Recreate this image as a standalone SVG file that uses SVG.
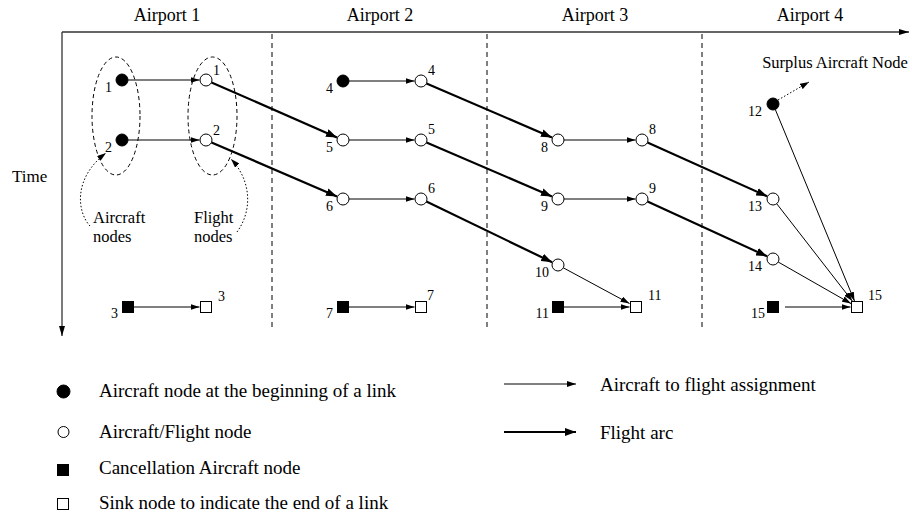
<svg xmlns="http://www.w3.org/2000/svg" width="912" height="516" viewBox="0 0 912 516">
<style>
text{font-family:"Liberation Serif","Times New Roman",serif;fill:#000}
.hdr{font-size:18px;text-anchor:middle}
.lbl{font-size:14px}
.l{text-anchor:end}
.cap{font-size:16.5px}
.leg{font-size:19px}
.axis{stroke:#333;stroke-width:1.3;fill:none}
.sep{stroke:#000;stroke-width:1;stroke-dasharray:5,4;fill:none}
.ell{stroke:#000;stroke-width:1;stroke-dasharray:4,3;fill:none}
.dot{stroke:#000;stroke-width:1;stroke-dasharray:1.5,2;fill:none}
.thin{stroke:#000;stroke-width:1;fill:none;marker-end:url(#ah)}
.thick{stroke:#000;stroke-width:2.2;fill:none;marker-end:url(#ahb)}
.fc{fill:#000;stroke:#000;stroke-width:1}
.oc{fill:#fff;stroke:#000;stroke-width:1}
</style>
<defs>
<marker id="ah" markerUnits="userSpaceOnUse" markerWidth="10" markerHeight="6" refX="9" refY="3" orient="auto"><path d="M0,0 L9,3 L0,6 z" fill="#000"/></marker>
<marker id="ahb" markerUnits="userSpaceOnUse" markerWidth="12" markerHeight="8" refX="11" refY="4" orient="auto"><path d="M0,0 L11,4 L0,8 z" fill="#000"/></marker>
<marker id="axh" markerUnits="userSpaceOnUse" markerWidth="10" markerHeight="6" refX="10" refY="3" orient="auto"><path d="M0,0 L10,3 L0,6 z" fill="#000"/></marker>
</defs>

<g id="axes">
<path class="axis" d="M62,32 H909" marker-end="url(#axh)"/>
<path class="axis" d="M62,32 V336" marker-end="url(#axh)"/>
<text x="12" y="182" style="font-size:17px">Time</text>
<text class="hdr" x="167" y="21">Airport 1</text>
<text class="hdr" x="380" y="21">Airport 2</text>
<text class="hdr" x="595" y="21">Airport 3</text>
<text class="hdr" x="810" y="21">Airport 4</text>
<path class="sep" d="M272,34 V330 M487,34 V330 M702,34 V330"/>
</g>

<g id="groups">
<ellipse class="ell" cx="116" cy="116" rx="24" ry="59"/>
<ellipse class="ell" cx="212.5" cy="116" rx="24.5" ry="59"/>
<text class="cap" x="93" y="223">Aircraft</text>
<text class="cap" x="93" y="242">nodes</text>
<text class="cap" x="194" y="223">Flight</text>
<text class="cap" x="194" y="242">nodes</text>
<text class="cap" x="835" y="68" style="text-anchor:middle">Surplus Aircraft Node</text>
</g>

<g id="connectors">
<path class="thin" d="M128,80 H199.5"/>
<path class="thin" d="M128,140 H199.5"/>
<path class="thin" d="M349,81 H414.5"/>
<path class="thin" d="M349,140 H414.5"/>
<path class="thin" d="M349,199 H414.5"/>
<path class="thin" d="M564,140 H635.5"/>
<path class="thin" d="M564,199 H635.5"/>
<path class="thin" d="M563.3,267.8 L629.5,303.5"/>
<path class="thin" d="M564,307 H629.5"/>
<path class="thin" d="M134,307 H199.5"/>
<path class="thin" d="M349,307 H414.5"/>
<path class="thin" d="M775.3,109.5 L854.5,301"/>
<path class="thin" d="M776.7,203.7 L852.3,301"/>
<path class="thin" d="M778.2,262 L851,303.6"/>
<path class="thin" d="M785,307 H850.5"/>
<path class="thick" d="M211.5,82.4 L337,137.4"/>
<path class="thick" d="M211.5,142.4 L337,196.4"/>
<path class="thick" d="M426.5,83.4 L552,137.4"/>
<path class="thick" d="M426.5,142.4 L552,196.4"/>
<path class="thick" d="M426.4,201.6 L552.1,262.2"/>
<path class="thick" d="M647.5,142.5 L767.1,196.3"/>
<path class="thick" d="M647.5,201.5 L767.1,256.3"/>
<path class="dot" d="M778,100 L809,82" marker-end="url(#ah)"/>
<path class="dot" d="M90,226 C77,212 73,178 106,153" marker-end="url(#ah)"/>
<path class="dot" d="M237,232 C253,210 251,180 231,159" marker-end="url(#ah)"/>
</g>

<g id="a1">
<circle class="fc" cx="122" cy="80" r="6"/><text class="lbl l" x="112" y="92">1</text>
<circle class="fc" cx="122" cy="140" r="6"/><text class="lbl l" x="112" y="152">2</text>
<circle class="oc" cx="206" cy="80" r="6"/><text class="lbl" x="213" y="75">1</text>
<circle class="oc" cx="206" cy="140" r="6"/><text class="lbl" x="213" y="135">2</text>
<rect class="fc" x="122.5" y="301.5" width="11" height="11"/><text class="lbl l" x="118" y="318">3</text>
<rect class="oc" x="200.5" y="301.5" width="11" height="11"/><text class="lbl" x="218" y="301">3</text>
</g>

<g id="a2">
<circle class="fc" cx="343" cy="81" r="6"/><text class="lbl l" x="333" y="93">4</text>
<circle class="oc" cx="343" cy="140" r="6"/><text class="lbl l" x="333" y="152">5</text>
<circle class="oc" cx="343" cy="199" r="6"/><text class="lbl l" x="333" y="211">6</text>
<circle class="oc" cx="421" cy="81" r="6"/><text class="lbl" x="428" y="75">4</text>
<circle class="oc" cx="421" cy="140" r="6"/><text class="lbl" x="428" y="134">5</text>
<circle class="oc" cx="421" cy="199" r="6"/><text class="lbl" x="428" y="193">6</text>
<rect class="fc" x="337.5" y="301.5" width="11" height="11"/><text class="lbl l" x="333" y="318">7</text>
<rect class="oc" x="415.5" y="301.5" width="11" height="11"/><text class="lbl" x="427" y="300">7</text>
</g>

<g id="a3">
<circle class="oc" cx="558" cy="140" r="6"/><text class="lbl l" x="548" y="152">8</text>
<circle class="oc" cx="558" cy="199" r="6"/><text class="lbl l" x="548" y="211">9</text>
<circle class="oc" cx="558" cy="265" r="6"/><text class="lbl l" x="549" y="277">10</text>
<circle class="oc" cx="642" cy="140" r="6"/><text class="lbl" x="649" y="134">8</text>
<circle class="oc" cx="642" cy="199" r="6"/><text class="lbl" x="649" y="193">9</text>
<rect class="fc" x="552.5" y="301.5" width="11" height="11"/><text class="lbl l" x="549" y="318">11</text>
<rect class="oc" x="630.5" y="301.5" width="11" height="11"/><text class="lbl" x="648" y="300">11</text>
</g>

<g id="a4">
<circle class="fc" cx="773" cy="104" r="6"/><text class="lbl l" x="762" y="116">12</text>
<circle class="oc" cx="773" cy="199" r="6"/><text class="lbl l" x="762" y="211">13</text>
<circle class="oc" cx="773" cy="259" r="6"/><text class="lbl l" x="762" y="271">14</text>
<rect class="fc" x="767.5" y="301.5" width="11" height="11"/><text class="lbl l" x="765" y="318">15</text>
<rect class="oc" x="851.5" y="301.5" width="11" height="11"/><text class="lbl" x="868" y="300">15</text>
</g>

<g id="legend">
<circle class="fc" cx="63.5" cy="391.5" r="6.5"/>
<text class="leg" x="99" y="397">Aircraft node at the beginning of a link</text>
<circle class="oc" cx="63.5" cy="432" r="5.5"/>
<text class="leg" x="99" y="438">Aircraft/Flight node</text>
<rect class="fc" x="57.5" y="464.5" width="11" height="11"/>
<text class="leg" x="99" y="474">Cancellation Aircraft node</text>
<rect class="oc" x="57.5" y="498.5" width="11" height="11"/>
<text class="leg" x="99" y="509">Sink node to indicate the end of a link</text>
<path class="thin" d="M504,384 H576"/>
<text class="leg" x="600" y="391">Aircraft to flight assignment</text>
<path class="thick" d="M504,432 H576"/>
<text class="leg" x="600" y="439">Flight arc</text>
</g>
</svg>
